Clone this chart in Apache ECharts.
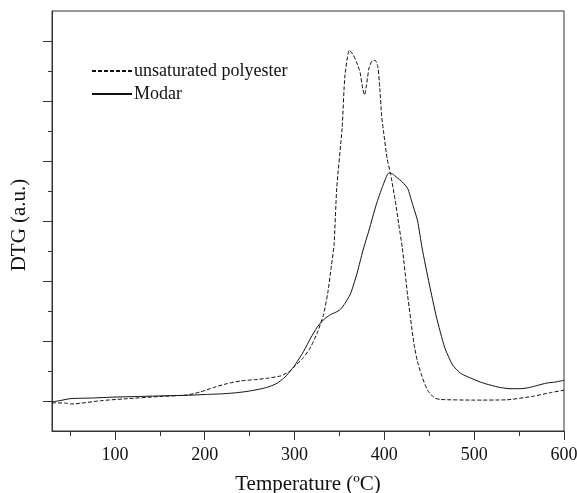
<!DOCTYPE html>
<html>
<head>
<meta charset="utf-8">
<script src="https://cdn.jsdelivr.net/npm/echarts@6/dist/echarts.min.js"></script>
<style>
    html, body { margin: 0; padding: 0; background: #fff; }
    #chart { width: 577px; height: 493px; }
</style>
</head>
<body>
<div id="chart"></div>
<script>
// DTG curves (temperature in ºC, DTG in arbitrary units)
var polyesterTemp = [30, 45, 52, 84, 110, 150, 180, 195, 210, 225, 240, 255, 270, 285, 295, 300,
    310, 318, 325, 332, 337, 341, 344, 347, 353, 356, 361, 365, 369, 373, 376, 378, 380, 383,
    387, 390, 393, 395, 397, 399, 403, 407, 412, 416, 420, 426, 433, 437, 441, 448, 456, 463,
    500, 536, 566, 585, 600];
var polyesterDtg = [0.94, 0.93, 0.90, 1.01, 1.07, 1.15, 1.20, 1.30, 1.45, 1.58, 1.67, 1.71, 1.76, 1.84, 2.00, 2.15,
    2.45, 2.80, 3.25, 3.85, 4.60, 5.50, 6.20, 8.10, 10.1, 11.8, 12.7, 12.55, 12.3, 11.95, 11.4, 11.2, 11.5, 12.1,
    12.35, 12.35, 12.1, 11.4, 10.5, 10.0, 9.1, 8.55, 7.7, 6.9, 6.1, 4.5, 2.9, 2.3, 1.9, 1.36, 1.10, 1.05,
    1.03, 1.04, 1.16, 1.28, 1.36];

var modarTemp = [30, 40, 51, 75, 99, 125, 151, 180, 203, 220, 233, 245, 255, 265, 273, 281, 288, 294,
    301, 310, 318, 325, 332, 340, 346, 351, 356, 362, 366, 370, 376, 383, 391, 398, 405, 409, 414,
    420, 426, 431, 437, 442, 450, 458, 467, 476, 485, 495, 507, 518, 529, 540, 551, 560, 568, 581,
    590, 600];
var modarDtg = [0.97, 1.02, 1.08, 1.10, 1.13, 1.15, 1.17, 1.19, 1.22, 1.24, 1.27, 1.31, 1.36, 1.42, 1.49, 1.60, 1.76, 1.95,
    2.22, 2.65, 3.10, 3.45, 3.70, 3.88, 3.96, 4.05, 4.25, 4.55, 4.90, 5.30, 6.00, 6.70, 7.55, 8.15, 8.60, 8.57, 8.45,
    8.30, 8.08, 7.60, 7.00, 6.10, 4.90, 3.80, 2.80, 2.20, 1.92, 1.78, 1.63, 1.53, 1.45, 1.41, 1.41, 1.44, 1.50, 1.60,
    1.63, 1.69];

var xMajorTicks = [100, 200, 300, 400, 500, 600];
var xMinorTicks = [50, 150, 250, 350, 450, 550];
var yMajorTicks = [1, 3, 5, 7, 9, 11, 13];
var yMinorTicks = [2, 4, 6, 8, 10, 12];

function pairs(xs, ys) {
    return xs.map(function (x, i) {
        return [x, ys[i]];
    });
}

var font = 'Liberation Serif';
var axisColor = '#333';

var chart = echarts.init(document.getElementById('chart'), null, { renderer: 'canvas' });

var option = {
    backgroundColor: '#fff',
    animation: false,
    grid: {
        left: 52,
        right: 13,
        top: 11,
        bottom: 62,
        containLabel: false,
        outerBoundsMode: 'none',
        show: true,
        borderColor: axisColor,
        borderWidth: 1
    },
    legend: {
        orient: 'vertical',
        left: 86,
        top: 57,
        itemWidth: 40,
        itemHeight: 14,
        itemGap: 5,
        itemStyle: { color: 'transparent', borderColor: 'transparent', borderWidth: 0 },
        textStyle: { fontFamily: font, fontSize: 18, color: '#111', padding: [0, 0, 0, -3] },
        data: ['unsaturated polyester', 'Modar']
    },
    xAxis: [{
        type: 'value',
        position: 'bottom',
        min: 30,
        max: 600,
        name: 'Temperature (ºC)',
        nameLocation: 'middle',
        nameGap: 43,
        nameTextStyle: { fontFamily: font, fontSize: 21, color: '#111' },
        splitLine: { show: false },
        axisLine: { lineStyle: { color: axisColor, width: 1 } },
        axisTick: { inside: false, length: 9, customValues: xMajorTicks, lineStyle: { color: axisColor } },
        axisLabel: { customValues: xMajorTicks, margin: 15, fontFamily: font, fontSize: 18, color: '#111' }
    }, {
        type: 'value',
        position: 'bottom',
        min: 30,
        max: 600,
        splitLine: { show: false },
        axisLine: { show: false },
        axisTick: { inside: false, length: 5, customValues: xMinorTicks, lineStyle: { color: axisColor } },
        axisLabel: { show: false }
    }],
    yAxis: [{
        type: 'value',
        position: 'left',
        min: 0,
        max: 14,
        name: 'DTG (a.u.)',
        nameLocation: 'middle',
        nameGap: 22,
        nameTextStyle: { fontFamily: font, fontSize: 21, color: '#111', padding: [0, 8, 0, 0] },
        splitLine: { show: false },
        axisLine: { lineStyle: { color: axisColor, width: 1 } },
        axisTick: { inside: false, length: 9, customValues: yMajorTicks, lineStyle: { color: axisColor } },
        axisLabel: { show: false }
    }, {
        type: 'value',
        position: 'left',
        min: 0,
        max: 14,
        splitLine: { show: false },
        axisLine: { show: false },
        axisTick: { inside: false, length: 4, customValues: yMinorTicks, lineStyle: { color: axisColor } },
        axisLabel: { show: false }
    }],
    series: [{
        name: 'unsaturated polyester',
        type: 'line',
        symbol: 'none',
        smooth: 0.2,
        data: pairs(polyesterTemp, polyesterDtg),
        lineStyle: { color: '#111', width: 1, type: [4, 2] },
        itemStyle: { color: '#111' }
    }, {
        name: 'Modar',
        type: 'line',
        symbol: 'none',
        smooth: 0.2,
        data: pairs(modarTemp, modarDtg),
        lineStyle: { color: '#111', width: 1, type: 'solid' },
        itemStyle: { color: '#111' }
    }]
};

chart.setOption(option);
</script>
</body>
</html>
